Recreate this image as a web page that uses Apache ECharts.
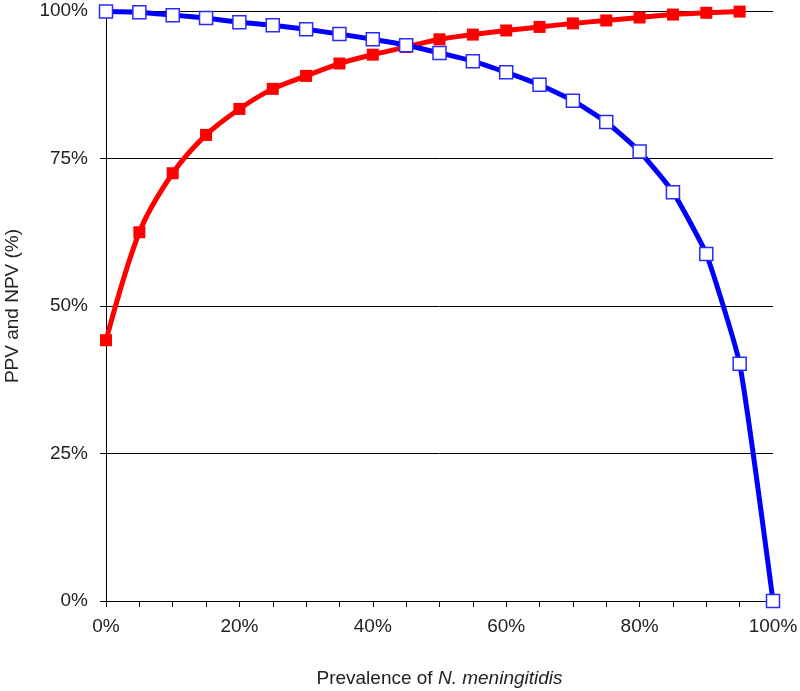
<!DOCTYPE html>
<html>
<head>
<meta charset="utf-8">
<script src="https://cdn.jsdelivr.net/npm/echarts@6/dist/echarts.min.js"></script>
<style>
  html, body { margin: 0; padding: 0; background: #fff; }
  #main { width: 800px; height: 691px; }
</style>
</head>
<body>
<div id="main"></div>
<script>
  // prevalence (%) — x positions of the points
  var prevalence = [0, 5, 10, 15, 20, 25, 30, 35, 40, 45, 50, 55, 60, 65, 70, 75, 80, 85, 90, 95, 100];
  // PPV (red, filled squares), last point at 95%
  var ppv = [44.2, 62.5, 72.5, 79.0, 83.4, 86.8, 89.0, 91.1, 92.6, 93.9, 95.2, 96.0, 96.7, 97.3, 97.9, 98.4, 98.9, 99.4, 99.7, 99.9];
  // NPV (blue, open squares)
  var npv = [99.9, 99.8, 99.3, 98.8, 98.1, 97.6, 96.9, 96.1, 95.2, 94.2, 92.9, 91.5, 89.6, 87.5, 84.8, 81.2, 76.2, 69.3, 58.8, 40.2, 0];

  function pairs(ys) {
    return ys.map(function (y, i) { return [prevalence[i], y]; });
  }

  var font = 'Liberation Sans, Arial, sans-serif';
  var txt = '#222';
  var chart = echarts.init(document.getElementById('main'));

  var option = {
    backgroundColor: '#fff',
    animation: false,
    grid: { left: 106, right: 27, top: 11, bottom: 90, containLabel: false, outerBoundsMode: 'none' },
    xAxis: {
      type: 'value',
      min: 0, max: 100, interval: 20,
      name: '{a|Prevalence of }{b|N. meningitidis}',
      nameLocation: 'middle',
      nameGap: 68,
      nameTextStyle: {
        rich: {
          a: { fontFamily: font, fontSize: 19, color: txt },
          b: { fontFamily: font, fontSize: 19, color: txt, fontStyle: 'italic' }
        }
      },
      axisLine: { lineStyle: { color: '#000', width: 1 } },
      axisTick: { length: 6, lineStyle: { color: '#000' } },
      minorTick: { show: true, splitNumber: 4, length: 6, lineStyle: { color: '#000' } },
      axisLabel: { formatter: '{value}%', color: txt, fontFamily: font, fontSize: 19, margin: 16 },
      splitLine: { show: false }
    },
    yAxis: {
      type: 'value',
      min: 0, max: 100, interval: 25,
      name: 'PPV and NPV (%)',
      nameLocation: 'middle',
      nameGap: 84,
      nameTextStyle: { fontFamily: font, fontSize: 19, color: txt },
      axisLine: { show: true, lineStyle: { color: '#000', width: 1 } },
      axisTick: { show: true, length: 6, lineStyle: { color: '#000' } },
      axisLabel: { formatter: '{value}%', color: txt, fontFamily: font, fontSize: 19, margin: 18 },
      splitLine: { show: true, lineStyle: { color: '#000', width: 1 } }
    },
    series: [
      {
        name: 'PPV',
        type: 'line',
        data: pairs(ppv),
        smooth: 0.3,
        symbol: 'rect',
        symbolSize: 12,
        lineStyle: { color: '#ff0000', width: 5 },
        itemStyle: { color: '#ff0000', borderWidth: 0 },
        z: 2
      },
      {
        name: 'NPV',
        type: 'line',
        data: pairs(npv),
        smooth: 0.15,
        symbol: 'rect',
        symbolSize: 13,
        lineStyle: { color: '#0000ff', width: 5 },
        itemStyle: { color: '#ffffff', borderColor: '#2a2aff', borderWidth: 1.5 },
        z: 3
      }
    ]
  };

  chart.setOption(option);
</script>
</body>
</html>
